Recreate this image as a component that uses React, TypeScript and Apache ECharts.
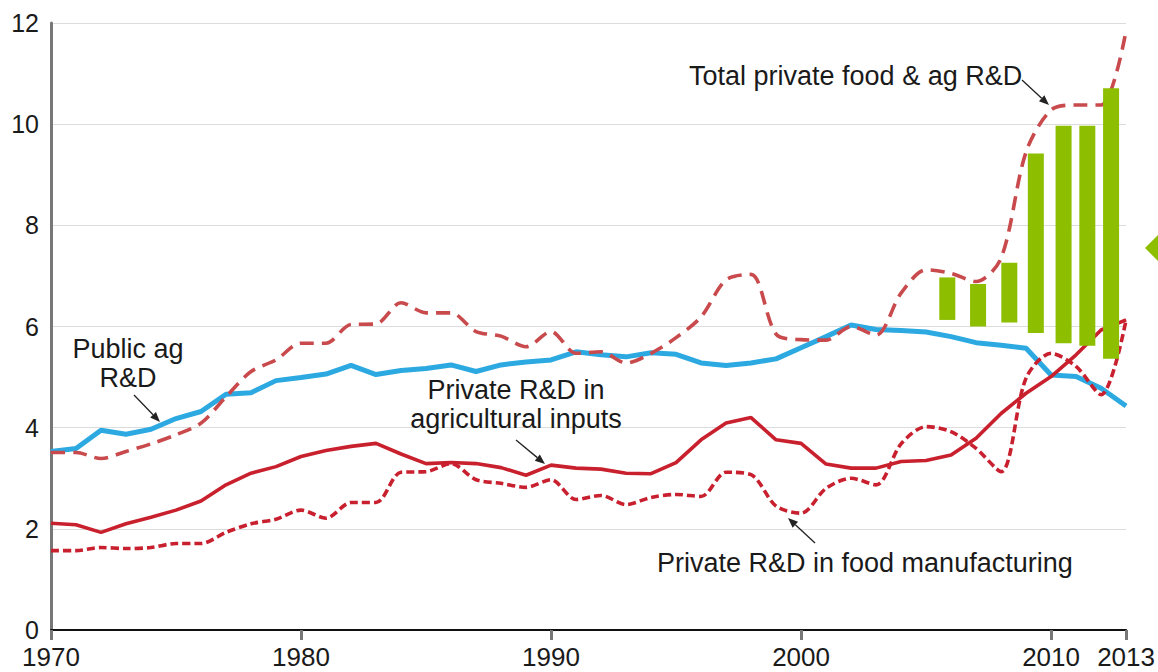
import React, { useEffect, useRef } from "react";
import * as echarts from "echarts";

const years: number[] = [];
for (let y = 1970; y <= 2013; y++) years.push(y);

const publicAg = [
  3.53, 3.59, 3.95, 3.87, 3.97, 4.18, 4.32, 4.66, 4.69, 4.93,
  4.99, 5.06, 5.23, 5.05, 5.13, 5.17, 5.24, 5.11, 5.24, 5.3,
  5.34, 5.5, 5.44, 5.4, 5.48, 5.45, 5.28, 5.23, 5.28, 5.36,
  5.58, 5.8, 6.03, 5.94, 5.92, 5.89, 5.8, 5.68, 5.63, 5.57,
  5.04, 5.01, 4.78, 4.43,
];

const totalPrivate = [
  3.51, 3.51, 3.39, 3.53, 3.68, 3.86, 4.09, 4.61, 5.11, 5.34,
  5.67, 5.67, 6.04, 6.05, 6.47, 6.27, 6.27, 5.9, 5.81, 5.6,
  5.9, 5.47, 5.5, 5.28, 5.47, 5.78, 6.19, 6.92, 7.03, 5.85,
  5.74, 5.73, 6.0, 5.83, 6.66, 7.12, 7.05, 6.89, 7.35, 9.45,
  10.28, 10.38, 10.38, 11.85,
];

const agInputs = [
  2.11, 2.08, 1.93, 2.1, 2.23, 2.37, 2.55, 2.87, 3.1, 3.23,
  3.43, 3.55, 3.63, 3.69, 3.48, 3.29, 3.31, 3.29, 3.21, 3.06,
  3.26, 3.2, 3.18, 3.1, 3.09, 3.31, 3.76, 4.09, 4.2, 3.76,
  3.69, 3.28, 3.2, 3.2, 3.33, 3.35, 3.46, 3.79, 4.28, 4.68,
  5.01, 5.44, 5.93, 6.13,
];

const foodMfg = [
  1.57, 1.57, 1.63, 1.61, 1.63, 1.71, 1.71, 1.93, 2.1, 2.19,
  2.37, 2.21, 2.52, 2.52, 3.12, 3.13, 3.29, 2.97, 2.9, 2.82,
  2.97, 2.58, 2.66, 2.48, 2.62, 2.68, 2.64, 3.12, 3.07, 2.45,
  2.31, 2.8, 3.0, 2.87, 3.68, 4.02, 3.92, 3.59, 3.13, 4.98,
  5.47, 5.21, 4.65, 6.13,
];

const barYears = [2005.85, 2007.08, 2008.33, 2009.39, 2010.5, 2011.45, 2012.4];
const barLow = [6.13, 6.0, 6.08, 5.87, 5.67, 5.62, 5.36];
const barHigh = [6.97, 6.84, 7.26, 9.42, 9.97, 9.97, 10.71];

const FONT = "'Liberation Sans', Arial, Helvetica, sans-serif";
const TXT = "#1a1a1a";

function pairs(vals: number[]) {
  return years.map((y, i) => [y, vals[i]]);
}

function arrow(x1: number, y1: number, x2: number, y2: number) {
  const dx = x2 - x1;
  const dy = y2 - y1;
  const L = Math.hypot(dx, dy);
  const ux = dx / L;
  const uy = dy / L;
  const hl = 10;
  const hw = 4;
  const bx = x2 - ux * hl;
  const by = y2 - uy * hl;
  return [
    {
      type: "line",
      shape: { x1, y1, x2: bx, y2: by },
      style: { stroke: "#222", lineWidth: 1.3 },
      z: 20,
    },
    {
      type: "polygon",
      shape: {
        points: [
          [x2, y2],
          [bx - uy * hw, by + ux * hw],
          [bx + uy * hw, by - ux * hw],
        ],
      },
      style: { fill: "#222" },
      z: 20,
    },
  ];
}

function label(text: string, x: number, y: number, align: string, size = 27) {
  return {
    type: "text",
    x,
    y,
    z: 20,
    style: {
      text,
      fill: TXT,
      font: `${size}px ${FONT}`,
      fontSize: size,
      fontFamily: FONT,
      align,
      verticalAlign: "middle",
      lineHeight: size,
    },
  };
}

export default function App() {
  const ref = useRef<HTMLDivElement>(null);

  useEffect(() => {
    if (!ref.current) return;
    const chart = echarts.init(ref.current, undefined, { renderer: "svg" });

    const option: any = {
      animation: false,
      backgroundColor: "#ffffff",
      grid: { left: 51, right: 31, top: 23, bottom: 42, containLabel: false },
      xAxis: {
        type: "value",
        min: 1970,
        max: 2013,
        interval: 10,
        axisLine: { show: true, lineStyle: { color: "#111", width: 2 } },
        axisTick: { show: true, length: 10, lineStyle: { color: "#777", width: 3 } },
        axisLabel: {
          color: TXT,
          fontSize: 26,
          fontFamily: FONT,
          margin: 14,
          showMinLabel: true,
          showMaxLabel: true,
          formatter: (v: number) => String(v),
        },
        splitLine: { show: false },
      },
      yAxis: {
        type: "value",
        min: 0,
        max: 12,
        interval: 2,
        axisLine: { show: true, lineStyle: { color: "#777", width: 3 } },
        axisTick: { show: false },
        axisLabel: { color: TXT, fontSize: 25, fontFamily: FONT, margin: 12 },
        splitLine: { show: true, lineStyle: { color: "#dcdcdc", width: 1 } },
      },
      series: [
        {
          name: "Public ag R&D",
          type: "line",
          data: pairs(publicAg),
          showSymbol: false,
          lineStyle: { color: "#2CA9E1", width: 5 },
          z: 3,
        },
        {
          name: "Total private food & ag R&D",
          type: "line",
          data: pairs(totalPrivate),
          showSymbol: false,
          smooth: 0.3,
          lineStyle: { color: "#C94A4C", width: 3.6, type: [14, 8] },
          z: 4,
        },
        {
          name: "Private R&D in agricultural inputs",
          type: "line",
          data: pairs(agInputs),
          showSymbol: false,
          lineStyle: { color: "#C9202E", width: 3.6 },
          z: 3,
        },
        {
          name: "Private R&D in food manufacturing",
          type: "line",
          data: pairs(foodMfg),
          showSymbol: false,
          smooth: 0.3,
          lineStyle: { color: "#C8202E", width: 3.6, type: [8, 4] },
          z: 3,
        },
        {
          name: "bars",
          type: "custom",
          clip: false,
          z: 6,
          data: barYears.map((y, i) => [y, barLow[i], barHigh[i]]),
          encode: { x: 0, y: [1, 2] },
          renderItem: (params: any, api: any) => {
            const x = api.value(0);
            const lo = api.value(1);
            const hi = api.value(2);
            const top = api.coord([x, hi]);
            const bot = api.coord([x, lo]);
            return {
              type: "rect",
              shape: { x: top[0] - 8, y: top[1], width: 16, height: bot[1] - top[1] },
              style: { fill: "#8DBE00" },
            };
          },
        },
      ],
      graphic: [
        label("Total private food & ag R&D", 689, 76, "left"),
        ...arrow(1022, 80, 1049, 105),
        label("Public ag", 128, 349, "center"),
        label("R&D", 128, 378, "center"),
        ...arrow(134, 395, 160, 422),
        label("Private R&D in", 516, 390, "center"),
        label("agricultural inputs", 516, 419, "center"),
        ...arrow(516, 440, 545, 464),
        label("Private R&D in food manufacturing", 657, 563, "left"),
        ...arrow(815, 543, 788, 518),
        {
          type: "polygon",
          z: 20,
          shape: { points: [[1145, 248], [1162, 231], [1162, 265]] },
          style: { fill: "#8DBE00" },
        },
      ],
    };

    chart.setOption(option);
    return () => chart.dispose();
  }, []);

  return (
    <div
      ref={ref}
      style={{ position: "fixed", left: 0, top: 0, width: 1158, height: 672, background: "#fff" }}
    />
  );
}
